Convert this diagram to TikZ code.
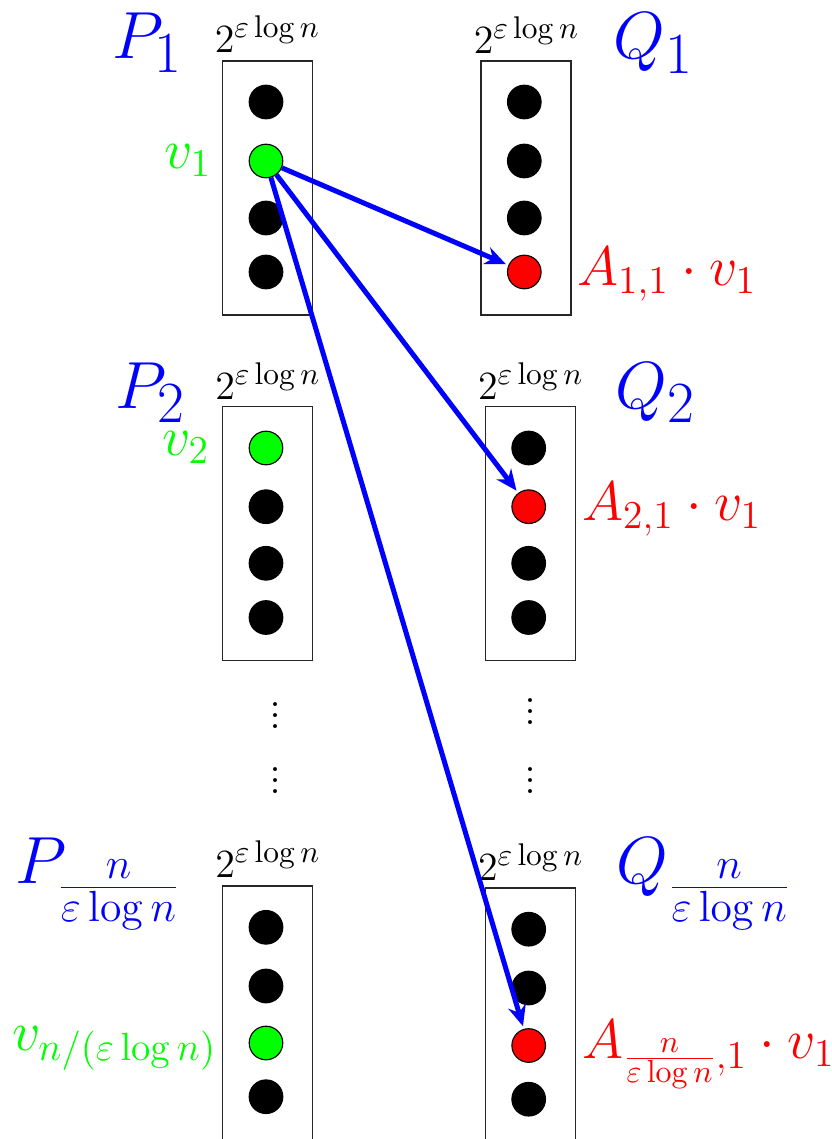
\RequirePackage{fix-cm}
\documentclass[tikz,border=0pt]{standalone}
\usetikzlibrary{arrows.meta}
\DeclareMathSizes{14.4}{14.4}{11.3}{8}
\DeclareMathSizes{24}{24}{21}{15.7}
\DeclareMathSizes{20.1}{20.1}{14.2}{11.5}
\newcommand\myvdots{\vbox{\baselineskip4pt \lineskiplimit0pt \hbox{.}\hbox{.}\hbox{.}}}
\begin{document}
\begin{tikzpicture}[x=0.36pt,y=-0.36pt,
  boxline/.style={draw=black!85,line width=0.45pt},
  dotbase/.style={circle,draw=black,line width=0.4pt,inner sep=0pt,minimum size=12.1pt},
  dotb/.style={dotbase,fill=black},
  dotg/.style={dotbase,fill=green},
  dotr/.style={dotbase,fill=red},
  sizelbl/.style={inner sep=0pt,anchor=base,font=\fontsize{14.4}{17}\selectfont},
  namelbl/.style={inner sep=0pt,anchor=base west,text=blue,font=\fontsize{24}{29}\selectfont},
  vlbl/.style={inner sep=0pt,anchor=base east,text=green,font=\fontsize{20.1}{24}\selectfont},
  albl/.style={inner sep=0pt,anchor=base west,text=red,font=\fontsize{20.1}{24}\selectfont},
  dotsv/.style={inner sep=0pt,anchor=south,font=\LARGE},
  arr/.style={blue,line width=1.8pt,-{Stealth[length=7.5pt,width=6.5pt]},shorten >=1pt}]
\useasboundingbox (0,0) rectangle (832,1139);

% boxes
\draw[boxline] (222.5,61) rectangle (312.5,315);
\draw[boxline] (481,61) rectangle (571,315);
\draw[boxline] (222.5,406.7) rectangle (312.5,660.7);
\draw[boxline] (485.3,406.7) rectangle (575.3,660.7);
\draw[boxline] (222.5,886) rectangle (312.5,1140);
\draw[boxline] (485.3,888) rectangle (575.3,1142);

% size labels
\node[sizelbl] (s1) at (267.5,52) {$2^{\varepsilon\log n}$};
\node[sizelbl] (t1) at (526.5,53) {$2^{\varepsilon\log n}$};
\node[sizelbl] (s2) at (268,399.5) {$2^{\varepsilon\log n}$};
\node[sizelbl] (t2) at (530.8,399.5) {$2^{\varepsilon\log n}$};
\node[sizelbl] (s3) at (268,877) {$2^{\varepsilon\log n}$};
\node[sizelbl] (t3) at (530.8,880) {$2^{\varepsilon\log n}$};

% P / Q names
\node[namelbl] (P1) at (112,58) {$P_1$};
\node[namelbl] (Q1) at (613,58.5) {$Q_1$};
\node[namelbl] (P2) at (115,408) {$P_2$};
\node[namelbl] (Q2) at (615,408) {$Q_2$};
\node[namelbl] (P3) at (15,883) {$P_{\frac{n}{\varepsilon\log n}}$};
\node[namelbl] (Q3) at (616,883) {$Q_{\frac{n}{\varepsilon\log n}}$};

% dots P1
\node[dotb] (p1a) at (266,102) {};
\node[dotg] (p1b) at (266,161) {};
\node[dotb] (p1c) at (266,218) {};
\node[dotb] (p1d) at (266,272) {};
% dots Q1
\node[dotb] (q1a) at (524.3,102) {};
\node[dotb] (q1b) at (524.3,161) {};
\node[dotb] (q1c) at (524.3,218) {};
\node[dotr] (q1d) at (524.3,272) {};
% dots P2
\node[dotg] (p2a) at (266,448) {};
\node[dotb] (p2b) at (266,506.7) {};
\node[dotb] (p2c) at (266,563.3) {};
\node[dotb] (p2d) at (266,617.5) {};
% dots Q2
\node[dotb] (q2a) at (528.7,448) {};
\node[dotr] (q2b) at (528.7,506.7) {};
\node[dotb] (q2c) at (528.7,563.3) {};
\node[dotb] (q2d) at (528.7,617.5) {};
% dots P3
\node[dotb] (p3a) at (266,927.3) {};
\node[dotb] (p3b) at (266,986) {};
\node[dotg] (p3c) at (266,1043) {};
\node[dotb] (p3d) at (266,1096.7) {};
% dots Q3
\node[dotb] (q3a) at (528.7,929.2) {};
\node[dotb] (q3b) at (528.7,988) {};
\node[dotr] (q3c) at (528.7,1045.5) {};
\node[dotb] (q3d) at (528.7,1099.2) {};

% green labels
\node[vlbl] (v1) at (212,168) {$v_1$};
\node[vlbl] (v2) at (210,455) {$v_2$};
\node[vlbl] (v3) at (217,1050) {$v_{n/(\varepsilon\log n)}$};

% red labels
\node[albl] (a1) at (576.7,285) {$A_{1,1}\cdot v_1$};
\node[albl] (a2) at (581.7,520) {$A_{2,1}\cdot v_1$};
\node[albl] (a3) at (581.7,1058) {$A_{\frac{n}{\varepsilon\log n},1}\cdot v_1$};

% vertical dots
\node[dotsv] (dl1) at (275,729) {\myvdots};
\node[dotsv] (dl2) at (275,794.5) {\myvdots};
\node[dotsv] (dr1) at (530.3,725) {\myvdots};
\node[dotsv] (dr2) at (530.3,794.5) {\myvdots};

% arrows
\draw[arr] (p1b) -- (q1d);
\draw[arr] (p1b) -- (q2b);
\draw[arr] (p1b) -- (q3c);
\end{tikzpicture}
\end{document}
